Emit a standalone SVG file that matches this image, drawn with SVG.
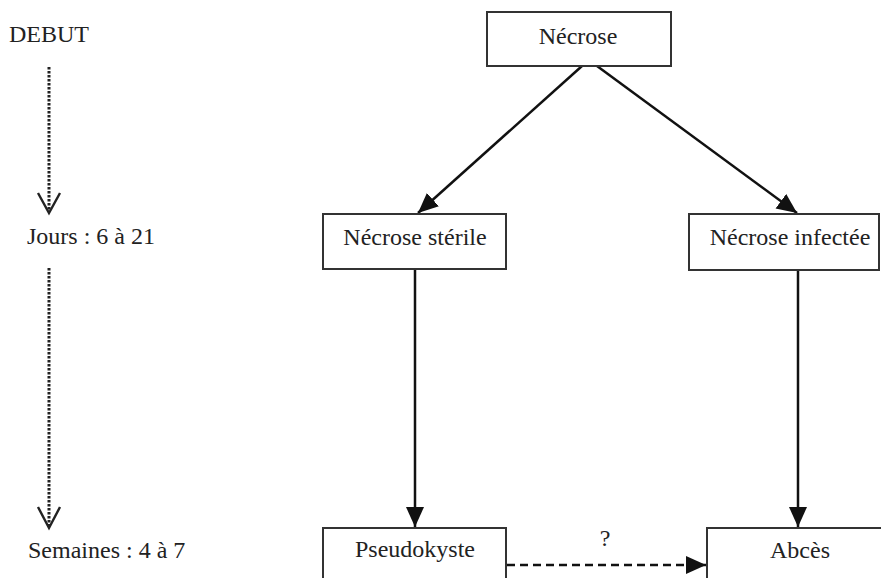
<svg xmlns="http://www.w3.org/2000/svg" width="881" height="578" viewBox="0 0 881 578" font-family="'Liberation Serif', 'Times New Roman', serif">
<style>
text{font-family:'Liberation Serif','Times New Roman',serif;font-size:24px;fill:#222}
.box rect{fill:#fff;stroke:#333;stroke-width:2}
.c{text-anchor:middle}
.solid{stroke:#111;stroke-width:2.5;fill:none}
.dash{stroke:#111;stroke-width:2.5;fill:none;stroke-dasharray:8 5}
.dot{stroke:#222;stroke-width:3;fill:none;stroke-dasharray:2.5 1.5}
.vee{stroke:#222;stroke-width:2.4;fill:none}
</style>
<defs>
<marker id="ah" markerUnits="userSpaceOnUse" markerWidth="22" markerHeight="20" refX="20" refY="9" orient="auto">
<path d="M0,0 L20,9 L0,18 Z" fill="#111"/>
</marker>
</defs>
<g id="timeline">
<text x="9" y="42">DEBUT</text>
<line class="dot" x1="49" y1="67" x2="49" y2="211"/>
<polyline class="vee" points="38,193 49,213 60,193"/>
<text x="27" y="244">Jours : 6 à 21</text>
<line class="dot" x1="49" y1="268" x2="49" y2="526"/>
<polyline class="vee" points="38,507 49,528 60,507"/>
<text x="28" y="558">Semaines : 4 à 7</text>
</g>
<g id="connectors">
<line class="solid" x1="582" y1="66" x2="418" y2="213" marker-end="url(#ah)"/>
<line class="solid" x1="597" y1="66" x2="797" y2="213" marker-end="url(#ah)"/>
<line class="solid" x1="415" y1="270" x2="415" y2="527" marker-end="url(#ah)"/>
<line class="solid" x1="798" y1="271" x2="798" y2="527" marker-end="url(#ah)"/>
<line class="dash" x1="507" y1="565" x2="706" y2="565" marker-end="url(#ah)"/>
<text class="c" x="605" y="546">?</text>
</g>
<g id="necrose" class="box">
<rect x="487" y="12" width="184" height="54"/>
<text class="c" x="578" y="44">Nécrose</text>
</g>
<g id="necrose-sterile" class="box">
<rect x="323" y="214" width="183" height="55"/>
<text class="c" x="415" y="245">Nécrose stérile</text>
</g>
<g id="necrose-infectee" class="box">
<rect x="689" y="214" width="190" height="56"/>
<text class="c" x="790" y="245">Nécrose infectée</text>
</g>
<g id="pseudokyste" class="box">
<rect x="323" y="528" width="183" height="70"/>
<text class="c" x="415" y="557">Pseudokyste</text>
</g>
<g id="abces" class="box">
<rect x="707" y="528" width="190" height="70"/>
<text class="c" x="800" y="558">Abcès</text>
</g>
</svg>
